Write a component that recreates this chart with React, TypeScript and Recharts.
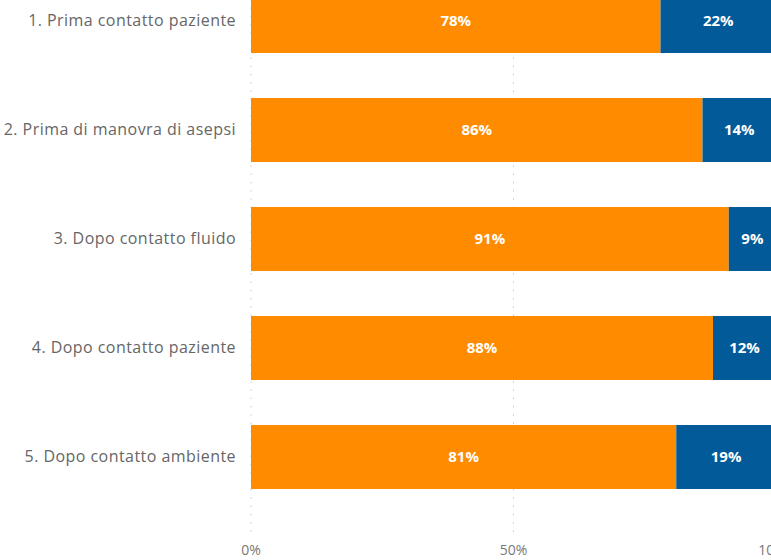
import React from "react";
import { BarChart, Bar, XAxis, YAxis, CartesianGrid, LabelList } from "recharts";

const categories = [
  "1. Prima contatto paziente",
  "2. Prima di manovra di asepsi",
  "3. Dopo contatto fluido",
  "4. Dopo contatto paziente",
  "5. Dopo contatto ambiente",
];
const orangeValues = [78, 86, 91, 88, 81];
const blueValues = [22, 14, 9, 12, 19];
const xTicks = [0, 50, 100];

const data = categories.map((name, i) => ({ name, a: orangeValues[i], b: blueValues[i] }));

const FONT = "'Open Sans', 'Noto Sans', sans-serif";

export default function App() {
  return (
    <div style={{ position: "fixed", left: 0, top: 0, width: 771, height: 560, overflow: "hidden", background: "#fff" }}>
      <div style={{ position: "absolute", left: 0, top: -34 }}>
        <BarChart
          width={806}
          height={603}
          data={data}
          layout="vertical"
          margin={{ top: 0, right: 30, bottom: 0, left: 0 }}
          barSize={64}
          style={{ fontFamily: FONT }}
        >
          <CartesianGrid horizontal={false} vertical={true} stroke="#c8c8c8" strokeDasharray="1.5 6.8" />
          <XAxis
            type="number"
            domain={[0, 100]}
            ticks={xTicks}
            tickFormatter={(v) => `${v}%`}
            axisLine={false}
            tickLine={false}
            tickSize={0}
            tickMargin={6}
            height={30}
            tick={{ fill: "#777", fontSize: 14, fontFamily: FONT }}
          />
          <YAxis
            type="category"
            dataKey="name"
            width={251}
            axisLine={false}
            tickLine={false}
            tickSize={0}
            tickMargin={15}
            padding={{ top: 0, bottom: 28 }}
            tick={{ fill: "#666", fontSize: 16, fontFamily: FONT, letterSpacing: 0.45 }}
          />
          <Bar dataKey="a" stackId="s" fill="#FF8C00" isAnimationActive={false}>
            <LabelList dataKey="a" position="center" formatter={(v: any) => `${v}%`} fill="#fff" fontWeight="bold" fontSize={15} fontFamily={FONT} />
          </Bar>
          <Bar dataKey="b" stackId="s" fill="#025A99" isAnimationActive={false}>
            <LabelList dataKey="b" position="center" formatter={(v: any) => `${v}%`} fill="#fff" fontWeight="bold" fontSize={15} fontFamily={FONT} />
          </Bar>
        </BarChart>
      </div>
    </div>
  );
}
